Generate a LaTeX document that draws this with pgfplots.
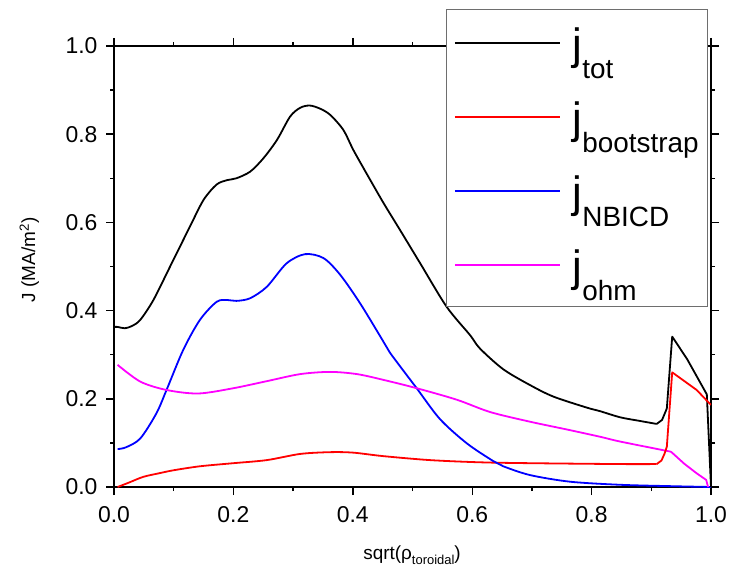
\documentclass[border=0pt]{standalone}
\usepackage{fontspec}
\setmainfont{Liberation Sans}
\usepackage{pgfplots}
\pgfplotsset{compat=1.18}
\definecolor{cmag}{RGB}{255,0,255}
\definecolor{cred}{RGB}{255,0,0}
\definecolor{cblue}{RGB}{0,0,255}
\definecolor{cframe}{RGB}{110,110,110}
\begin{document}
\begin{tikzpicture}
\begin{axis}[
  at={(0,0)}, anchor=south west,
  scale only axis, width=597bp, height=441bp,
  xmin=0, xmax=1, ymin=0, ymax=1,
  xtick={0,0.2,0.4,0.6,0.8,1.0},
  ytick={0,0.2,0.4,0.6,0.8,1.0},
  minor tick num=1,
  tick align=outside,
  major tick length=8bp, minor tick length=4bp,
  axis line style={line width=1.6bp},
  every tick/.style={line width=1.4bp, black},
  /pgf/number format/assume math mode=true,
  /pgf/number format/.cd, fixed, fixed zerofill, precision=1, /pgfplots/.cd,
  tick label style={font=\fontsize{23}{23}\selectfont},
  xticklabel style={yshift=-8bp},
  yticklabel style={xshift=-5bp},
  xlabel={sqrt(ρ\raisebox{-5bp}{\fontsize{13}{13}\selectfont toroidal})},
  ylabel={J (MA/m\textsuperscript{2})},
  every axis x label/.style={at={(axis description cs:0.4992,-0.1655)}, anchor=base, font=\fontsize{19}{19}\selectfont},
  every axis y label/.style={at={(axis description cs:-0.142,0.515)}, rotate=90, anchor=center, font=\fontsize{19}{19}\selectfont},
  legend cell align=left,
  legend image code/.code={\draw[#1, line width=1.8bp] (0bp,3.65bp) -- (105bp,3.65bp);},
  legend style={at={(0.5556,1.0832)}, anchor=north west, draw=cframe, fill=white,
    inner xsep=8bp, inner ysep=5bp, row sep=9.3bp, column sep=12bp,
    font=\fontsize{44}{44}\selectfont,
    nodes={inner sep=0pt, text height=44.7bp, text depth=20bp}},
  every axis plot/.append style={line width=1.8bp, line join=round},
]
\addplot[black, smooth, tension=0.5] coordinates {
(0.000,0.363)(0.006,0.363)(0.018,0.360)(0.030,0.365)(0.044,0.379)(0.066,0.424)(0.094,0.500)
(0.127,0.590)(0.150,0.651)(0.172,0.686)(0.190,0.696)(0.205,0.700)(0.228,0.715)(0.250,0.745)
(0.273,0.787)(0.295,0.840)(0.312,0.860)(0.328,0.865)(0.345,0.858)(0.362,0.844)(0.384,0.810)
(0.401,0.764)(0.423,0.711)(0.451,0.645)(0.479,0.583)(0.513,0.507)(0.557,0.409)(0.596,0.345)
(0.613,0.314)(0.652,0.267)(0.697,0.231)(0.736,0.205)(0.792,0.180)(0.814,0.172)(0.848,0.158)
(0.880,0.150)(0.909,0.143)
};
\addlegendentry{j\raisebox{-19bp}{\fontsize{28}{28}\selectfont tot}}
\addplot[cred, smooth, tension=0.5] coordinates {
(0.006,0.000)(0.025,0.010)(0.049,0.023)(0.075,0.031)(0.100,0.038)(0.144,0.047)(0.200,0.054)
(0.256,0.061)(0.312,0.075)(0.362,0.079)(0.400,0.078)(0.451,0.070)(0.529,0.061)(0.613,0.056)
(0.697,0.054)(0.848,0.052)(0.909,0.052)
};
\addlegendentry{j\raisebox{-19bp}{\fontsize{28}{28}\selectfont bootstrap}}
\addplot[cblue, smooth, tension=0.5] coordinates {
(0.006,0.086)(0.020,0.090)(0.044,0.110)(0.071,0.167)(0.088,0.220)(0.116,0.311)(0.144,0.379)
(0.172,0.420)(0.190,0.424)(0.205,0.422)(0.228,0.428)(0.256,0.454)(0.289,0.507)(0.320,0.528)
(0.351,0.519)(0.379,0.481)(0.412,0.417)(0.448,0.337)(0.462,0.305)(0.507,0.224)(0.546,0.154)
(0.591,0.099)(0.635,0.059)(0.652,0.047)(0.697,0.027)(0.764,0.012)(0.848,0.005)(0.930,0.002)(1.000,0.000)
};
\addlegendentry{j\raisebox{-19bp}{\fontsize{28}{28}\selectfont NBICD}}
\addplot[cmag, smooth, tension=0.5] coordinates {
(0.006,0.277)(0.044,0.239)(0.088,0.220)(0.141,0.212)(0.200,0.224)(0.256,0.240)(0.312,0.256)
(0.362,0.261)(0.407,0.256)(0.451,0.243)(0.507,0.224)(0.574,0.198)(0.630,0.170)(0.697,0.148)
(0.760,0.130)(0.814,0.114)(0.848,0.103)(0.933,0.080)
};
\addlegendentry{j\raisebox{-19bp}{\fontsize{28}{28}\selectfont ohm}}
% sharp edge tails
\addplot[black, forget plot] coordinates {
(0.909,0.143)(0.918,0.152)(0.926,0.178)(0.935,0.341)(0.960,0.290)(0.993,0.210)(1.000,0.000)
};
\addplot[cred, forget plot] coordinates {
(0.909,0.052)(0.917,0.060)(0.922,0.075)(0.926,0.091)(0.935,0.260)(0.976,0.220)(1.000,0.186)
};
\addplot[cmag, forget plot] coordinates {
(0.933,0.080)(0.955,0.053)(0.976,0.031)(0.992,0.016)(0.995,0.000)
};
\end{axis}
\pgfresetboundingbox
\path[use as bounding box] (-114bp,-84bp) rectangle (616bp,487bp);
\end{tikzpicture}
\end{document}
